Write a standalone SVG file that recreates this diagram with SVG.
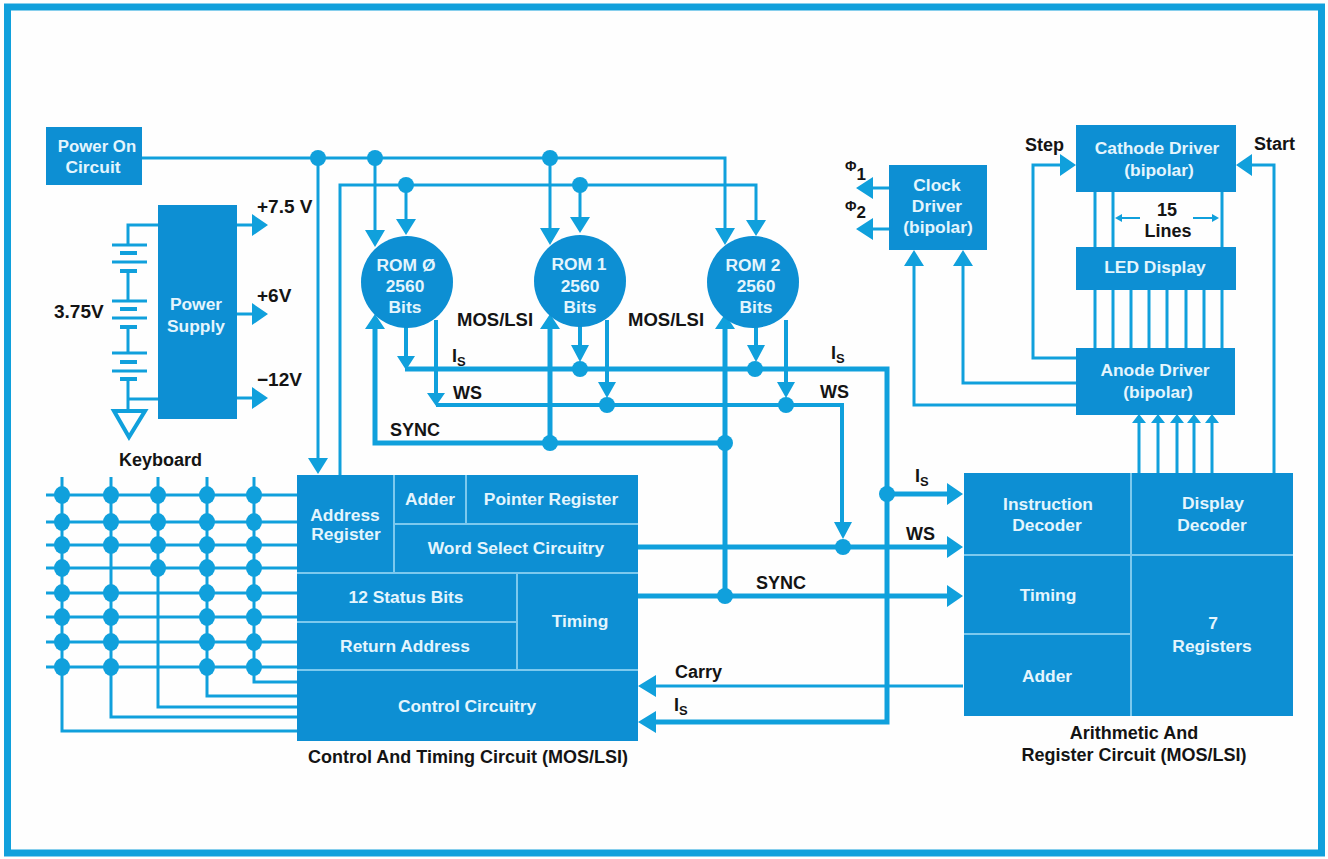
<svg xmlns="http://www.w3.org/2000/svg" width="1328" height="859" viewBox="0 0 1328 859">
<style>
text{font-family:"Liberation Sans",Arial,sans-serif;font-weight:700;font-size:17.4px}
.w{fill:#e4f5fd;text-anchor:middle}
.k{fill:#141414;font-size:18px}
.b{fill:#0d8fd3}
.t{fill:none;stroke:#10a0dc;stroke-width:3}
.h{fill:none;stroke:#10a0dc;stroke-width:5}
.m{fill:none;stroke:#10a0dc;stroke-width:4}
.a{fill:#10a0dc}
.d{fill:none;stroke:#7cc9ee;stroke-width:2}
</style>
<rect width="1328" height="859" fill="#fefefe"/>
<rect id="frame" x="7.500" y="7" width="1314" height="846" fill="none" stroke="#10a0dc" stroke-width="7"/>
<g id="connectors">
<path class="t" d="M142 158H725V230M318 158V462M375 158V235M550 158V235M340 475V185H756V222M406 185V220M580 185V218"/>
<path class="a" d="M308 458H328L318 474ZM365 230H385L375 247ZM540 228H560L550 245ZM715 228H735L725 245ZM396 219H416L406 235ZM570 217H590L580 233ZM746 220H766L756 236Z"/>
<path class="m" d="M406 325V360M406 369H885M580 325V350M756 325V350M436 320V395M607 320V385M786 320V385M436 405H842V525"/>
<path class="h" d="M375 329V443H725M550 329V443M725 329V596M405 369H887V722H655M887 494H950M638 547H950M638 596H950"/>
<path class="t" d="M963 686H655"/>
<path class="a" d="M397 356H415L406 370ZM571 345H589L580 362ZM747 345H765L756 362ZM427 393H445L436 406ZM598 382H616L607 398ZM777 382H795L786 398ZM834 522H852L843 539ZM365 329H385L375 314ZM540 329H560L550 314ZM715 329H735L725 314Z"/>
<path class="a" d="M947 483L963 494L947 505ZM947 536L963 547L947 558ZM947 585L963 596L947 607ZM656 675L638 686L656 697ZM656 711L638 722L656 733Z"/>
<circle class="a" cx="318" cy="158" r="8"/><circle class="a" cx="375" cy="158" r="8"/><circle class="a" cx="550" cy="158" r="8"/>
<circle class="a" cx="406" cy="185" r="8"/><circle class="a" cx="580" cy="185" r="8"/>
<circle class="a" cx="580" cy="369" r="8"/><circle class="a" cx="755" cy="369" r="8"/><circle class="a" cx="607" cy="405" r="8"/><circle class="a" cx="786" cy="405" r="8"/>
<circle class="a" cx="550" cy="443" r="8"/><circle class="a" cx="725" cy="443" r="8"/><circle class="a" cx="887" cy="494" r="8"/><circle class="a" cx="843" cy="547" r="8"/><circle class="a" cx="725" cy="596" r="8"/>
<path class="t" d="M158 225H128V245M128 271V301M128 327V353M128 379V410M128 399H158M237 225H254M237 314H254M237 398H254M112 245H147M112 262H147M112 301H147M112 318H147M112 353H147M112 371H147"/>
<path class="m" d="M120 253H137M120 271H137M120 309H137M120 327H137M120 362H137M120 379H137"/>
<path class="m" d="M114 411H145L129 437Z" style="fill:#fefefe"/>
<path class="a" d="M252 214L268 225L252 236ZM252 303L268 314L252 325ZM252 387L268 398L252 409Z"/>
<path class="t" d="M46 495H297M46 522H297M46 545H297M46 568H297M46 593H297M46 617H297M46 642H297M46 667H297M62 477V731H297M111 477V717H297M158 477V707H297M207 477V696H297M254 477V682H297"/>
<g class="a">
<ellipse cx="62" cy="495" rx="8" ry="9"/><ellipse cx="62" cy="522" rx="8" ry="9"/><ellipse cx="62" cy="545" rx="8" ry="9"/><ellipse cx="62" cy="568" rx="8" ry="9"/><ellipse cx="62" cy="593" rx="8" ry="9"/><ellipse cx="62" cy="617" rx="8" ry="9"/><ellipse cx="62" cy="642" rx="8" ry="9"/><ellipse cx="62" cy="667" rx="8" ry="9"/>
<ellipse cx="111" cy="495" rx="8" ry="9"/><ellipse cx="111" cy="522" rx="8" ry="9"/><ellipse cx="111" cy="545" rx="8" ry="9"/><ellipse cx="111" cy="593" rx="8" ry="9"/><ellipse cx="111" cy="617" rx="8" ry="9"/><ellipse cx="111" cy="642" rx="8" ry="9"/><ellipse cx="111" cy="667" rx="8" ry="9"/>
<ellipse cx="158" cy="495" rx="8" ry="9"/><ellipse cx="158" cy="522" rx="8" ry="9"/><ellipse cx="158" cy="545" rx="8" ry="9"/><ellipse cx="158" cy="568" rx="8" ry="9"/>
<ellipse cx="207" cy="495" rx="8" ry="9"/><ellipse cx="207" cy="522" rx="8" ry="9"/><ellipse cx="207" cy="545" rx="8" ry="9"/><ellipse cx="207" cy="568" rx="8" ry="9"/><ellipse cx="207" cy="593" rx="8" ry="9"/><ellipse cx="207" cy="617" rx="8" ry="9"/><ellipse cx="207" cy="642" rx="8" ry="9"/><ellipse cx="207" cy="667" rx="8" ry="9"/>
<ellipse cx="254" cy="495" rx="8" ry="9"/><ellipse cx="254" cy="522" rx="8" ry="9"/><ellipse cx="254" cy="545" rx="8" ry="9"/><ellipse cx="254" cy="568" rx="8" ry="9"/><ellipse cx="254" cy="593" rx="8" ry="9"/><ellipse cx="254" cy="617" rx="8" ry="9"/><ellipse cx="254" cy="642" rx="8" ry="9"/><ellipse cx="254" cy="667" rx="8" ry="9"/>
</g>
<path class="t" d="M889 188H870M889 229H870M1076 383H963V262M1076 405H914V262"/>
<path class="a" d="M873 177L856 188L873 199ZM873 218L856 229L873 240ZM904 266L914 250L924 266ZM953 266L963 250L973 266Z"/>
<path class="t" d="M1076 358H1033V165H1062M1274 473V165H1250M1095 192V247M1113 192V247M1222 192V247M1095 290V348M1113 290V348M1131 290V348M1149 290V348M1167 290V348M1186 290V348M1204 290V348M1222 290V348M1139 473V420M1158 473V420M1177 473V420M1194 473V420M1212 473V420"/>
<path class="a" d="M1060 154L1076 165L1060 176ZM1252 154L1236 165L1252 176ZM1132 423L1139 414L1146 423ZM1151 423L1158 414L1165 423ZM1170 423L1177 414L1184 423ZM1187 423L1194 414L1201 423ZM1205 423L1212 414L1219 423Z"/>
<path d="M1120 218H1140M1193 218H1214" stroke="#10a0dc" stroke-width="2" fill="none"/>
<path class="a" d="M1115 218L1122 214V222ZM1219 218L1212 214V222Z"/>
</g>
<g id="power-on"><rect class="b" x="46" y="127" width="96" height="58"/><text class="w" x="97" y="152" style="font-size:16.800px">Power On</text><text class="w" x="93" y="173">Circuit</text></g>
<g id="power-supply"><rect class="b" x="158" y="205" width="79" height="214"/><text class="w" x="196" y="310">Power</text><text class="w" x="196" y="332">Supply</text></g>
<g id="rom0"><circle class="b" cx="407" cy="282" r="46"/><text class="w" x="406" y="271">ROM Ø</text><text class="w" x="405" y="292">2560</text><text class="w" x="405" y="313">Bits</text></g>
<g id="rom1"><circle class="b" cx="580" cy="281" r="46"/><text class="w" x="579" y="270">ROM 1</text><text class="w" x="580" y="292">2560</text><text class="w" x="580" y="313">Bits</text></g>
<g id="rom2"><circle class="b" cx="753" cy="282" r="46"/><text class="w" x="753" y="271">ROM 2</text><text class="w" x="756" y="292">2560</text><text class="w" x="756" y="313">Bits</text></g>
<g id="clock-driver"><rect class="b" x="889" y="165" width="98" height="85"/><text class="w" x="937" y="191">Clock</text><text class="w" x="937" y="212">Driver</text><text class="w" x="938" y="233">(bipolar)</text></g>
<g id="cathode-driver"><rect class="b" x="1076" y="125" width="160" height="67"/><text class="w" x="1157" y="154">Cathode Driver</text><text class="w" x="1159" y="176">(bipolar)</text></g>
<g id="led-display"><rect class="b" x="1076" y="247" width="160" height="43"/><text class="w" x="1155" y="273">LED Display</text></g>
<g id="anode-driver"><rect class="b" x="1076" y="348" width="159" height="67"/><text class="w" x="1155" y="376">Anode Driver</text><text class="w" x="1158" y="398">(bipolar)</text></g>
<g id="control-timing">
<rect class="b" x="297" y="475" width="341" height="266"/>
<path class="d" d="M394 475V573M466 475V524M394 524H638M297 573H638M517 573V670M297 622H517M297 670H638"/>
<text class="w" x="345" y="521">Address</text><text class="w" x="346" y="540">Register</text>
<text class="w" x="430" y="505">Adder</text><text class="w" x="551" y="505">Pointer Register</text>
<text class="w" x="516" y="554">Word Select Circuitry</text><text class="w" x="406" y="603">12 Status Bits</text>
<text class="w" x="405" y="652">Return Address</text><text class="w" x="580" y="627">Timing</text><text class="w" x="467" y="712">Control Circuitry</text>
</g>
<g id="arithmetic-register">
<rect class="b" x="964" y="473" width="329" height="243"/>
<path class="d" d="M1131 473V716M964 555H1293M964 634H1131"/>
<text class="w" x="1048" y="510">Instruction</text><text class="w" x="1047" y="531">Decoder</text>
<text class="w" x="1213" y="509">Display</text><text class="w" x="1212" y="531">Decoder</text>
<text class="w" x="1048" y="601">Timing</text><text class="w" x="1047" y="682">Adder</text>
<text class="w" x="1213" y="629">7</text><text class="w" x="1212" y="652">Registers</text>
</g>
<g id="labels">
<text class="k" x="257" y="213" style="font-size:19px">+7.5 V</text><text class="k" x="257" y="302" style="font-size:19px">+6V</text><text class="k" x="257" y="386" style="font-size:19px">−12V</text><text class="k" x="54" y="318" style="font-size:19px">3.75V</text><text class="k" x="119" y="466">Keyboard</text>
<text class="k" x="457" y="326" style="font-size:18.500px">MOS/LSI</text><text class="k" x="628" y="326" style="font-size:18.500px">MOS/LSI</text>
<text class="k" x="452" y="362">I<tspan dy="4" font-size="13">S</tspan></text><text class="k" x="831" y="359">I<tspan dy="4" font-size="13">S</tspan></text>
<text class="k" x="453" y="399">WS</text><text class="k" x="820" y="398">WS</text><text class="k" x="390" y="436">SYNC</text>
<text class="k" x="915" y="482">I<tspan dy="4" font-size="13">S</tspan></text><text class="k" x="906" y="540">WS</text><text class="k" x="756" y="589">SYNC</text><text class="k" x="675" y="678">Carry</text><text class="k" x="674" y="711">I<tspan dy="4" font-size="13">S</tspan></text>
<text class="k" x="1025" y="151">Step</text><text class="k" x="1254" y="150">Start</text>
<text class="k" x="845" y="171" style="font-size:14px">Φ<tspan dy="9" style="font-size:17px">1</tspan></text><text class="k" x="845" y="211" style="font-size:14px">Φ<tspan dy="7" style="font-size:17px">2</tspan></text>
<text class="k" x="1167" y="216" text-anchor="middle">15</text><text class="k" x="1168" y="237" text-anchor="middle">Lines</text>
<text class="k" x="468" y="763" text-anchor="middle">Control And Timing Circuit (MOS/LSI)</text>
<text class="k" x="1134" y="739" text-anchor="middle">Arithmetic And</text><text class="k" x="1134" y="761" text-anchor="middle">Register Circuit (MOS/LSI)</text>
</g>
</svg>
